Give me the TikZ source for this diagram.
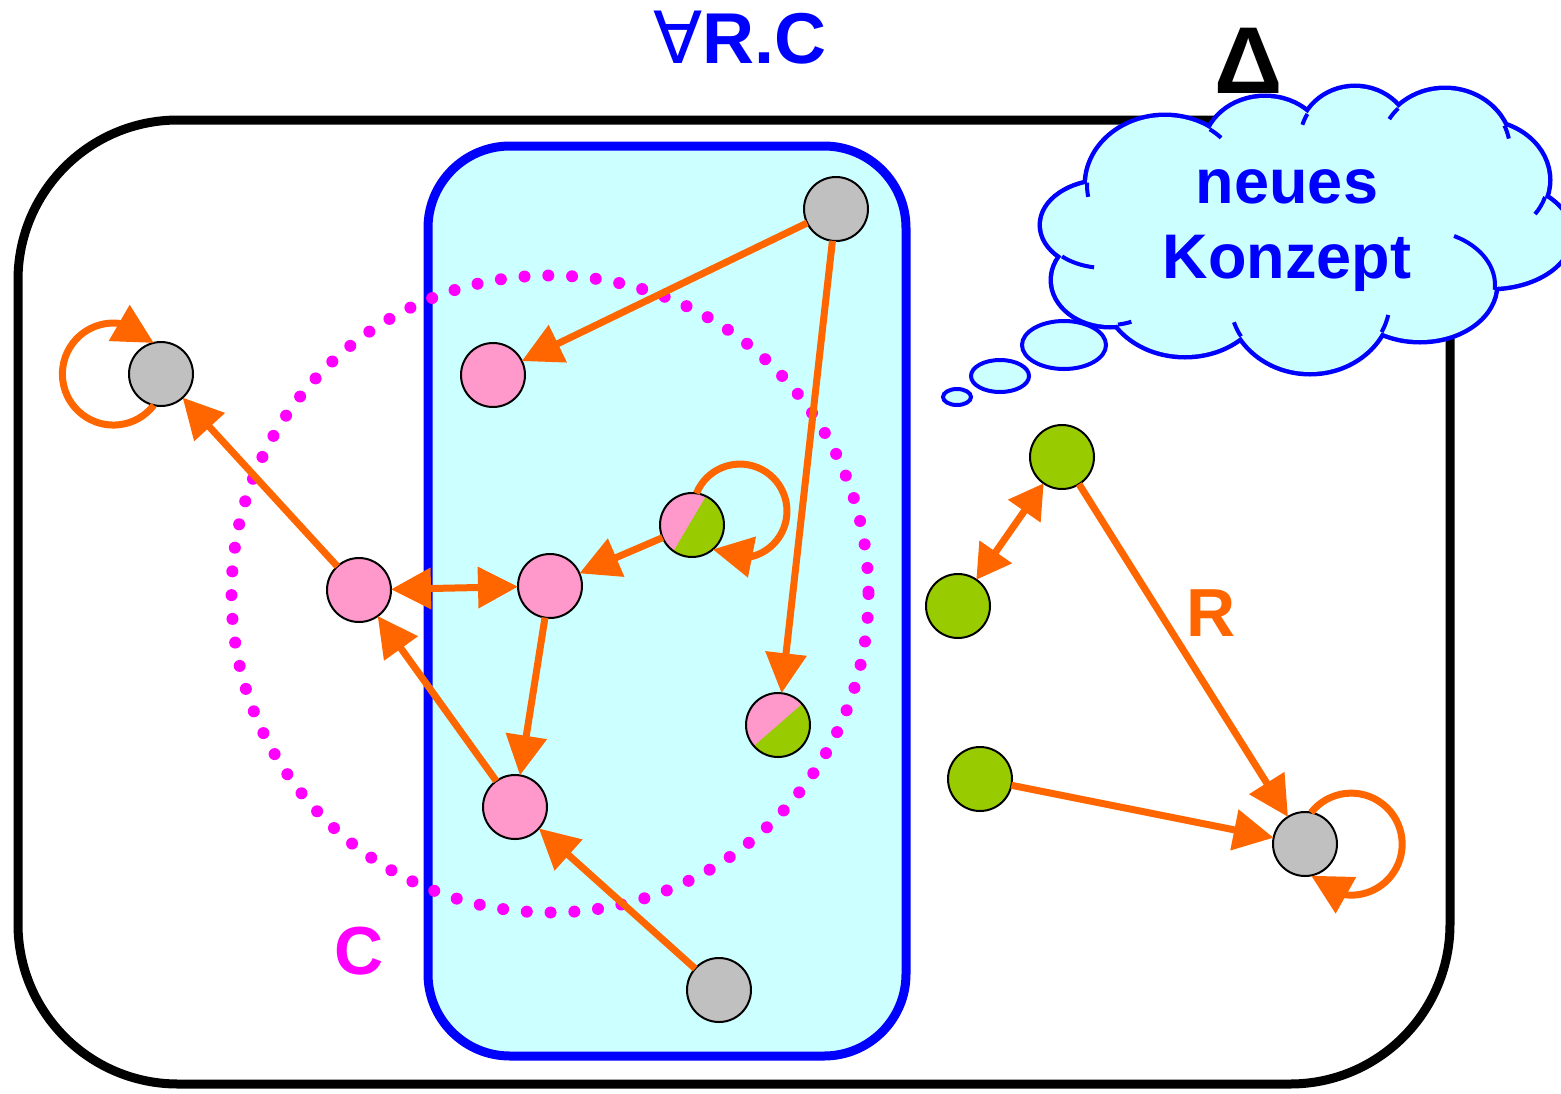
\documentclass[tikz,border=0pt]{standalone}
\usepackage{fontspec}
\setmainfont{Liberation Sans}
\newfontfamily\symbolfont{DejaVu Sans}
\usetikzlibrary{arrows.meta,bending,shapes.geometric}

\definecolor{relorange}{HTML}{FF6600}
\definecolor{conceptpink}{HTML}{FF99CC}
\definecolor{leafgreen}{HTML}{99CC00}
\definecolor{plaingray}{HTML}{C0C0C0}
\definecolor{paleaqua}{HTML}{CCFFFF}
\definecolor{deepblue}{HTML}{0000FF}
\definecolor{hotmagenta}{HTML}{FF00FF}

% lobes of the thought cloud: centre x / centre y / x radius / y radius
\def\cloudlobes{1165/185/78/68, 1265/150/60/52, 1355/140/55/52, 1445/150/65/60,
  1480/180/68/58, 1490/235/80/52, 1420/285/75/55, 1310/300/80/72,
  1185/290/80/65, 1110/280/57/45, 1105/225/63/43}

\begin{document}
\begin{tikzpicture}[x=1pt,y=-1pt,
  ind/.style={circle,draw=black,line width=2pt,minimum size=64pt,inner sep=0pt,outer sep=0pt},
  grayind/.style={ind,fill=plaingray},
  pinkind/.style={ind,fill=conceptpink},
  greenind/.style={ind,fill=leafgreen},
  rel/.style={draw=relorange,line width=7pt,-{Triangle[length=40pt,width=40pt]}},
  selfrel/.style={draw=relorange,line width=7pt,-{Triangle[length=40pt,width=40pt,flex=1]}},
  birel/.style={draw=relorange,line width=7pt,{Triangle[length=40pt,width=40pt]}-{Triangle[length=40pt,width=40pt]}},
  smallbirel/.style={draw=relorange,line width=7pt,{Triangle[length=34pt,width=38pt]}-{Triangle[length=34pt,width=38pt]}},
  bigtext/.style={font=\fontsize{#1}{#1}\selectfont\bfseries,inner sep=0pt,anchor=base},
  bubble/.style={ellipse,draw=deepblue,line width=4pt,fill=paleaqua,inner sep=0pt},
  cloudline/.style={draw=deepblue,line width=4pt}
]
\useasboundingbox (0,0) rectangle (1561,1093);

% domain Delta
\draw[line width=9pt,rounded corners=160pt] (18,120) rectangle (1450,1084);

% the concept forall R.C
\draw[draw=deepblue,fill=paleaqua,line width=9pt,rounded corners=82pt] (428,146) rectangle (906,1056);

% extension of C
\draw[hotmagenta,line width=12pt,line cap=round,dash pattern=on 0pt off 23.8pt] (550,594) circle[radius=318.5];

% individuals
\node[grayind] (g1) at (836,209) {};
\node[pinkind] (p1) at (493,375) {};
\node[grayind] (g2) at (161,374) {};
\node[ind,fill=conceptpink,path picture={\fill[leafgreen] (path picture bounding box.center) ++(45,-81) -- ++(-96,162) -- ++(250,0) -- cycle;}] (pg1) at (692,525) {};
\node[pinkind] (p2) at (359,590) {};
\node[pinkind] (p3) at (550,586) {};
\node[ind,fill=conceptpink,path picture={\fill[leafgreen] (path picture bounding box.center) ++(69,-60) -- ++(-138,120) -- ++(250,0) -- cycle;}] (pg2) at (778,725) {};
\node[pinkind] (p4) at (515,807) {};
\node[grayind] (g3) at (719,990) {};
\node[greenind] (gr1) at (1062,457) {};
\node[greenind] (gr2) at (958,606) {};
\node[greenind] (gr3) at (980,779) {};
\node[grayind] (g4) at (1305,844) {};

% role R
\draw[rel] (g1) -- (p1);
\draw[rel] (g1) -- (pg2);
\draw[rel] (p2) -- (g2);
\draw[birel] (p2) -- (p3);
\draw[rel] (pg1) -- (p3);
\draw[rel] (p3) -- (p4);
\draw[rel] (p4) -- (p2);
\draw[rel] (g3) -- (p4);
\draw[smallbirel] (gr1) -- (gr2);
\draw[rel] (gr1) -- (g4);
\draw[rel] (gr3) -- (g4);

% reflexive R edges
\draw[selfrel] (g2.-103.3) arc[start angle=37.6,end angle=322.4,radius=51];
\draw[selfrel] (pg1.82.9) arc[start angle=202.2,end angle=485.4,radius=47];
\draw[selfrel] (g4.79.4) arc[start angle=218.2,end angle=501.8,radius=51];

% thought cloud: wide outline of all lobes, then their fill over it
\foreach \cx/\cy/\rx/\ry in \cloudlobes
  \draw[deepblue,line width=9pt] (\cx,\cy) ellipse[x radius=\rx,y radius=\ry];
\foreach \cx/\cy/\rx/\ry in \cloudlobes
  \fill[paleaqua] (\cx,\cy) ellipse[x radius=\rx,y radius=\ry];
\fill[paleaqua] (1290,230) ellipse[x radius=190,y radius=95];
% short inner continuations of the lobe arcs
\draw[cloudline] (1165,185) ++(182:78 and 68) arc[start angle=182,end angle=170,x radius=78,y radius=68];
\draw[cloudline] (1165,185) ++(-55:78 and 68) arc[start angle=-55,end angle=-44,x radius=78,y radius=68];
\draw[cloudline] (1355,140) ++(210:55 and 52) arc[start angle=210,end angle=197,x radius=55,y radius=52];
\draw[cloudline] (1445,150) ++(224:65 and 60) arc[start angle=224,end angle=211,x radius=65,y radius=60];
\draw[cloudline] (1445,150) ++(-24:65 and 60) arc[start angle=-24,end angle=-11,x radius=65,y radius=60];
\draw[cloudline] (1480,180) ++(17:68 and 58) arc[start angle=17,end angle=36,x radius=68,y radius=58];
\draw[cloudline] (1420,285) ++(5:75 and 55) arc[start angle=5,end angle=-63,x radius=75,y radius=55];
\draw[cloudline] (1310,300) ++(26.5:80 and 72) arc[start angle=26.5,end angle=12,x radius=80,y radius=72];
\draw[cloudline] (1310,300) ++(149.6:80 and 72) arc[start angle=149.6,end angle=162,x radius=80,y radius=72];
\draw[cloudline] (1110,280) ++(82:57 and 45) arc[start angle=82,end angle=68,x radius=57,y radius=45];
\draw[cloudline] (1105,225) ++(133:63 and 43) arc[start angle=133,end angle=100,x radius=63,y radius=43];

\node[bubble,minimum width=84pt,minimum height=48pt] (b1) at (1064,345) {};
\node[bubble,minimum width=58pt,minimum height=32pt] (b2) at (1000,376) {};
\node[bubble,minimum width=28pt,minimum height=16pt] (b3) at (957,397) {};
\node[bigtext=63,text=deepblue] (neues) at (1287,203) {neues};
\node[bigtext=63,text=deepblue] (konzept) at (1287,278) {Konzept};

% labels
\node[bigtext=72,text=deepblue] (allrc) at (740,63) {{\mdseries\symbolfont ∀}R.C};
\node[bigtext=95] (delta) at (1249,93) {Δ};
\node[bigtext=68,text=hotmagenta] (clabel) at (359,974) {C};
\node[bigtext=68,text=relorange] (rlabel) at (1211,636) {R};
\end{tikzpicture}
\end{document}
